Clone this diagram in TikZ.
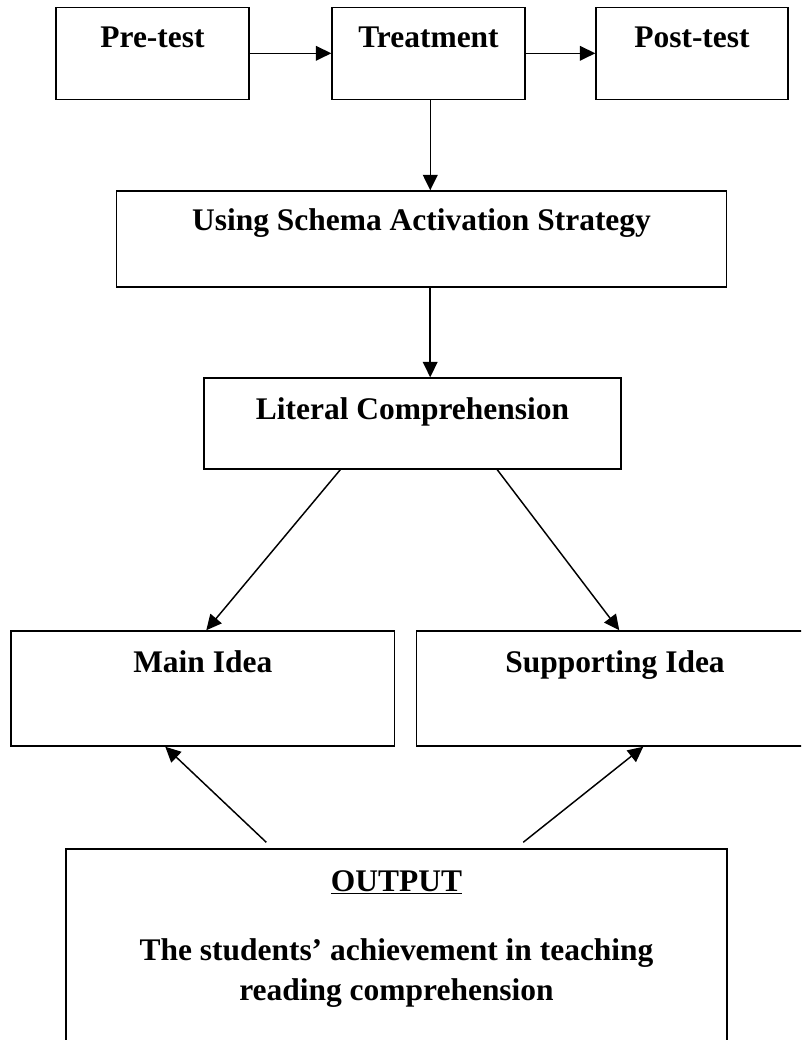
\documentclass[tikz,border=0pt]{standalone}
\usepackage{fontspec}
\setmainfont{Liberation Serif}
\usetikzlibrary{arrows.meta,calc}
\tikzset{
  box/.style={draw, line width=1.1pt, rectangle, inner sep=0pt, anchor=center,
    font=\fontsize{23.6}{30}\selectfont\bfseries},
  txt/.style={inner sep=0pt, anchor=base, font=\fontsize{23.6}{30}\selectfont\bfseries},
  arr/.style={draw, line width=1.1pt, -{Triangle[length=11.5pt,width=11pt]}}
}
\begin{document}
\begin{tikzpicture}[x=0.75pt,y=-0.75pt]
\useasboundingbox (0,0) rectangle (801,1040);
\clip (0,0) rectangle (801,1040);
\node[box, minimum width=144.75pt, text height=30.5pt, text depth=38.5pt] (pre) at (152.5,53.3) {Pre-test};
\node[box, minimum width=144.75pt, text height=30.5pt, text depth=38.5pt] (treat) at (428.5,53.3) {Treatment};
\node[box, minimum width=144pt, text height=30.5pt, text depth=38.5pt] (post) at (692,53.3) {Post-test};
\node[box, minimum width=457.6pt, text height=29.25pt, text depth=42.75pt] (using) at (421.5,239) {Using Schema Activation Strategy};
\node[box, minimum width=312.75pt, text height=30.75pt, text depth=37.5pt] (lit) at (412.5,423.5) {Literal Comprehension};
\node[box, minimum width=287.6pt, text height=30.75pt, text depth=55.5pt] (main) at (202.75,688.5) {Main Idea};
\node[box, minimum width=297.75pt, text height=30.75pt, text depth=55.5pt] (supp) at (615,688.5) {Supporting Idea};
\node[box, minimum width=495.75pt, text height=31.5pt, text depth=130.5pt] (out) at (396.5,957) {\underline{OUTPUT}};
\node[txt] (d1) at (396.5,960) {The students’ achievement in teaching};
\node[txt] (d2) at (396.5,1000) {reading comprehension};

\draw[arr] (pre.east) -- (treat.west);
\draw[arr] (treat.east) -- (post.west);
\draw[arr] ($(treat.south west)+(99,0)$) coordinate (t1) -- (t1 |- using.north);
\draw[arr] ($(using.south west)+(314.5,0)$) coordinate (u1) -- (u1 |- lit.north);
\draw[arr] ($(lit.south west)+(137,0)$) -- ($(main.north west)+(196,0)$);
\draw[arr] ($(lit.south west)+(294,0)$) -- ($(supp.north west)+(203.5,0)$);
\draw[arr] ($(out.north west)+(201,-6)$) -- ($(main.south west)+(155,0)$);
\draw[arr] ($(out.north west)+(458,-6)$) -- ($(supp.south west)+(227.5,0)$);
\end{tikzpicture}
\end{document}
